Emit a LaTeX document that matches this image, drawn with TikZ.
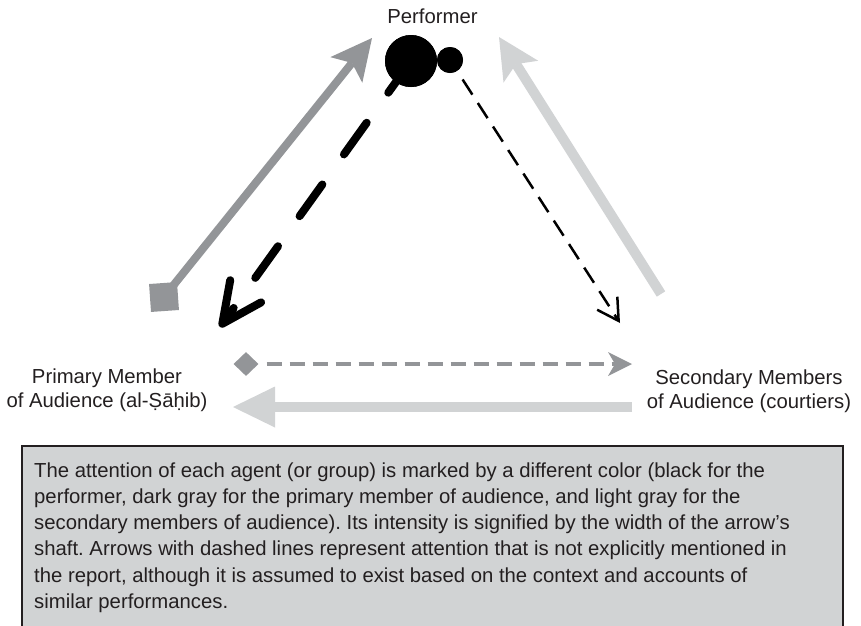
\documentclass[tikz,border=0pt]{standalone}
\usepackage{fontspec}
\setmainfont{Liberation Sans}
\usetikzlibrary{arrows.meta,shapes.geometric}
\definecolor{ink}{HTML}{231F20}
\definecolor{darkgrey}{HTML}{939598}
\definecolor{lightgrey}{HTML}{D1D3D4}
\frenchspacing
\begin{document}
\begin{tikzpicture}[x=1pt,y=-1pt,
  txt/.style={text=ink, inner sep=0pt, font=\fontsize{20.3}{24}\selectfont},
  bigdot/.style={circle, fill=black, inner sep=0pt, minimum size=52pt},
  smalldot/.style={circle, fill=black, inner sep=0pt, minimum size=26pt},
  sqmark/.style={rectangle, fill=darkgrey, inner sep=0pt, minimum size=28pt, rotate=4},
  diamark/.style={diamond, fill=darkgrey, inner sep=0pt, minimum width=25pt, minimum height=24pt},
  fillhead/.style={-{Stealth[length=#1, width=#1, inset=9pt, line width=0pt]}},
  barbhead/.style={-{Straight Barb[length=40pt, width=38pt, round]}},
  thinbarb/.style={-{Straight Barb[length=21pt, width=24pt]}},
  noteframe/.style={draw=ink, line width=1.2pt, fill=lightgrey}
]
\useasboundingbox (0,0) rectangle (861,625);
\clip (0,0) rectangle (861,625);

% labels of the three agents
\node[txt, anchor=base] (perf) at (432.5,23.3) {Performer};
\node[txt, anchor=base] (prim) at (107,383.5)
  {\begin{tabular}[t]{@{}c@{}}Primary Member\\of Audience (al-Ṣāḥib)\end{tabular}};
\node[txt, anchor=base] (sec) at (749,384.5)
  {\begin{tabular}[t]{@{}c@{}}Secondary Members\\of Audience (courtiers)\end{tabular}};

% markers where the arrows start
\node[sqmark] (sq) at (164,297) {};
\node[diamark] (dia) at (246,364) {};

% end points of the arrows
\coordinate (pa) at (372,38);
\coordinate (pb) at (220,327);
\coordinate (pc) at (620,323);
\coordinate (la) at (661,294);
\coordinate (lb) at (499,37);
\coordinate (ga) at (632,364);
\coordinate (ha) at (632,407);
\coordinate (hb) at (233,407);

% primary member -> performer
\draw[darkgrey, line width=8pt, fillhead=41pt] (sq.center) -- (pa);
% secondary members -> performer
\draw[lightgrey, line width=10pt, fillhead=41pt] (la) -- (lb);
% secondary members -> primary member
\draw[lightgrey, line width=10pt,
  -{Triangle[length=42pt, width=41pt, line width=0pt]}] (ha) -- (hb);
% primary member -> secondary members (assumed)
\draw[darkgrey, line width=3.5pt, dash pattern=on 15pt off 8pt, dash phase=15pt,
  -{Stealth[length=24pt, width=24pt, inset=7pt, line width=0pt]}] (dia.east) -- (ga);

% performer -> primary member (assumed)
\node[bigdot] (big) at (411,61) {};
\node[smalldot] (small) at (450,60) {};
\draw[black, line width=8pt, line cap=round, dash pattern=on 39pt off 37pt,
  barbhead] (big.center) -- (pb);
% performer -> secondary members (assumed)
\draw[black, line width=2.5pt, dash pattern=on 18pt off 10pt, dash phase=18pt,
  thinbarb] (small) -- (pc);
\node[bigdot] at (big) {};
\node[smalldot] at (small) {};

% explanatory note
\draw[noteframe] (22,446) rectangle (843,660);
\node[txt, anchor=base west, font=\fontsize{20.3}{26.3}\selectfont] (note) at (34,477)
  {\begin{tabular}[t]{@{}l@{}}
  The attention of each agent (or group) is marked by a different color (black for the\\
  performer, dark gray for the primary member of audience, and light gray for the\\
  secondary members of audience). Its intensity is signified by the width of the arrow’s\\
  shaft. Arrows with dashed lines represent attention that is not explicitly mentioned in\\
  the report, although it is assumed to exist based on the context and accounts of\\
  similar performances.
  \end{tabular}};
\end{tikzpicture}
\end{document}
